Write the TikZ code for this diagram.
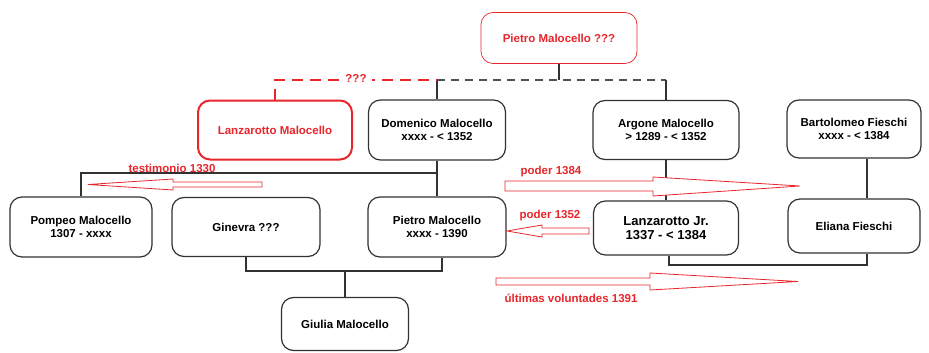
\documentclass[tikz,border=0pt]{standalone}
\usepackage{fontspec}
\setmainfont{Liberation Sans}
\usetikzlibrary{calc}
\definecolor{myred}{RGB}{232,38,44}
\definecolor{lineg}{RGB}{50,50,50}
\begin{document}
\begin{tikzpicture}[x=1pt,y=-1pt,
  font=\bfseries\fontsize{11.5}{13.5}\selectfont,
  box/.style={draw=lineg, line width=1.2pt, rounded corners=12pt, align=center, inner sep=0pt, text=black},
  redthin/.style={box, draw=myred, line width=0.7pt, text=myred},
  redthick/.style={box, draw=myred, line width=2pt, text=myred},
  conn/.style={draw=lineg, line width=1.2pt},
  graydash/.style={draw=lineg!85, line width=1.2pt, dash pattern=on 8pt off 6pt},
  reddash/.style={draw=myred, line width=2.4pt, dash pattern=on 11pt off 7pt},
  lbl/.style={text=myred, inner sep=1pt},
  blockarrow/.style={draw=myred, fill=white, line width=0.8pt, line join=miter}]
\useasboundingbox[fill=white] (0,0) rectangle (929,353);

% nodes
\node[redthin, minimum width=156pt, minimum height=51pt] (ptop) at (559,38) {Pietro Malocello ???};
\node[redthick, minimum width=154pt, minimum height=59pt] (lanz) at (275,130) {Lanzarotto Malocello};
\node[box, minimum width=137pt, minimum height=60pt] (dom) at (437,130) {Domenico Malocello\\xxxx - {<} 1352};
\node[box, minimum width=146pt, minimum height=59pt] (arg) at (666,130) {Argone Malocello\\{>} 1289 - {<} 1352};
\node[box, minimum width=134pt, minimum height=58pt] (bart) at (854,129) {Bartolomeo Fieschi\\xxxx - {<} 1384};
\node[box, minimum width=142pt, minimum height=60pt] (pompeo) at (81,227) {Pompeo Malocello\\1307 - xxxx};
\node[box, minimum width=148pt, minimum height=59pt] (ginevra) at (246,227) {Ginevra ???};
\node[box, minimum width=138pt, minimum height=60pt] (pietro) at (437,227) {Pietro Malocello\\xxxx - 1390};
\node[box, minimum width=145pt, minimum height=54pt, font=\bfseries\fontsize{13}{14.5}\selectfont] (ljr) at (666,228) {Lanzarotto Jr.\\1337 - {<} 1384};
\node[box, minimum width=132pt, minimum height=54pt] (eliana) at (854,226) {Eliana Fieschi};
\node[box, minimum width=127pt, minimum height=53pt] (giulia) at (345,324) {Giulia Malocello};

% junction coordinates
\coordinate (jtop) at (559,80);
\coordinate (jdom) at (437,173);
\coordinate (jgp) at (345,271);
\coordinate (jle) at (669,265);

% top connectors
\draw[conn] (ptop.south) -- (jtop);
\draw[graydash] (dom.north |- jtop) -- (arg.north |- jtop);
\draw[conn] (dom.north) -- (dom.north |- jtop);
\draw[conn] (arg.north) -- (arg.north |- jtop);
\draw[reddash] (lanz.north) -- (lanz.north |- jtop) -- (dom.north |- jtop);
\node[lbl, fill=white, inner xsep=5pt] (qq) at (356,78) {???};

% family lines
\draw[conn] (dom.south) -- (pietro.north);
\draw[conn] (pompeo.north) |- (jdom);
\draw[conn] (ginevra.south) |- ($(pietro.south |- jgp)+(5,0)$) -- ($(pietro.south)+(5,0)$);
\draw[conn] (giulia.north) -- (jgp);
\draw[conn] (arg.south) -- (ljr.north);
\draw[conn] ($(bart.south)+(13,0)$) -- ($(eliana.north)+(13,0)$);
\draw[conn] ($(ljr.south)+(3,0)$) |- ($(eliana.south |- jle)+(13,0)$) -- ($(eliana.south)+(13,0)$);

% red block arrows
\draw[blockarrow] (505,181) -- (653,181) -- (653,177) -- (800,186) -- (653,196) -- (653,191) -- (505,191) -- cycle;
\draw[blockarrow] (262,182) -- (173,182) -- (173,179) -- (88,184.5) -- (173,190) -- (173,187) -- (262,187) -- cycle;
\draw[blockarrow] (589,228) -- (542,228) -- (542,225) -- (507,231) -- (542,237) -- (542,234) -- (589,234) -- cycle;
\draw[blockarrow] (496,278) -- (650,278) -- (650,273) -- (798,281.5) -- (650,290) -- (650,285) -- (496,285) -- cycle;

% labels
\node[lbl] (t1330) at (172,168) {testimonio 1330};
\node[lbl] (p1384) at (551,172) {poder 1384};
\node[lbl] (p1352) at (550,216) {poder 1352};
\node[lbl] (u1391) at (571,298) {últimas voluntades 1391};
\end{tikzpicture}
\end{document}
